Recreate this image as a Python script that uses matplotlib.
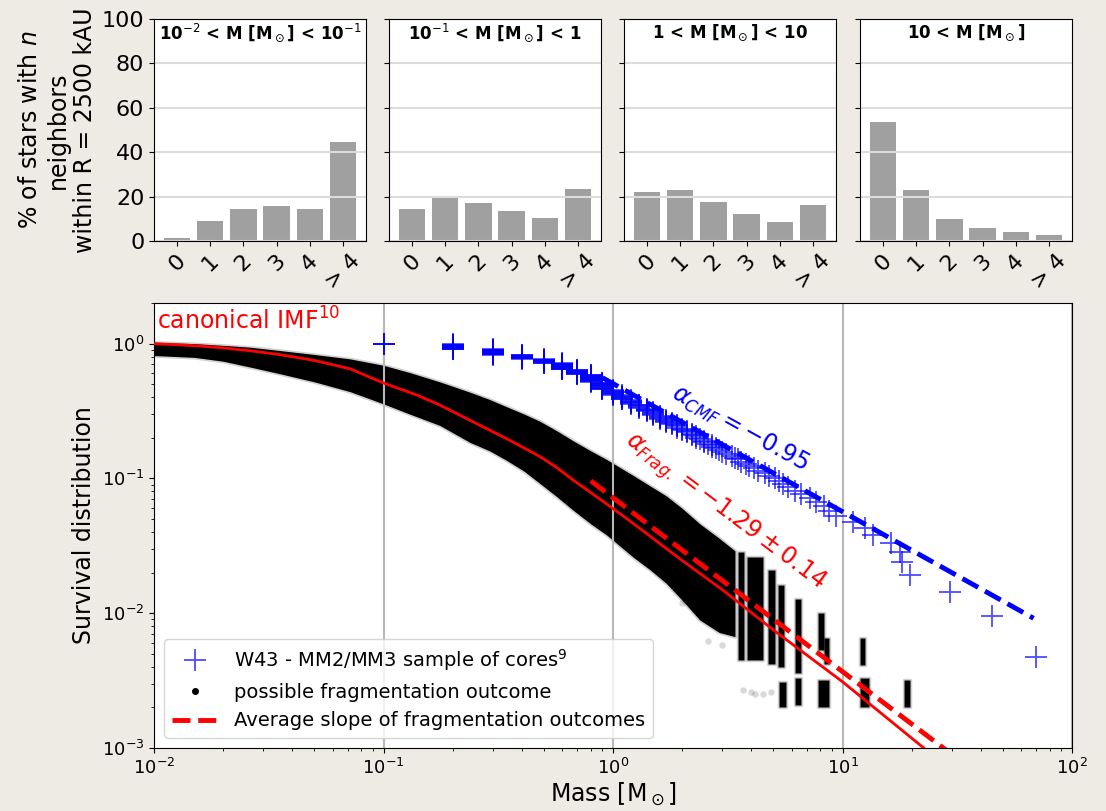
import numpy as np
import matplotlib.pyplot as plt
from matplotlib.lines import Line2D

# --- neighbour statistics (% of stars with n neighbours within 2500 kAU) ---
neighbour_labels = ['0', '1', '2', '3', '4', '> 4']
bin_titles = [r'10$^{-2}$ < M [M$_\odot$] < 10$^{-1}$',
              r'10$^{-1}$ < M [M$_\odot$] < 1',
              r'1 < M [M$_\odot$] < 10',
              r'10 < M [M$_\odot$]']
pct_bin1 = [1.5, 8.9, 14.5, 15.6, 14.5, 44.5]
pct_bin2 = [14.5, 19.8, 17.2, 13.6, 10.2, 23.5]
pct_bin3 = [21.9, 22.9, 17.5, 12.1, 8.5, 16.0]
pct_bin4 = [53.4, 22.9, 9.9, 6.0, 3.9, 2.7]

# --- W43 MM2/MM3 cores: mass values and how many cores share each value ---
core_mass = [0.1, 0.2, 0.3, 0.4, 0.5, 0.6, 0.7, 0.8, 0.9,
             1.0, 1.1, 1.2, 1.3, 1.4, 1.5, 1.6, 1.7, 1.8, 1.9,
             2.0, 2.1, 2.2, 2.3, 2.4, 2.5, 2.6, 2.7, 2.8, 2.9,
             3.0, 3.1, 3.3, 3.4, 3.5, 3.6, 3.8, 3.9,
             4.1, 4.3, 4.6, 4.8, 5.1, 5.3, 5.5, 5.8,
             6.2, 6.6, 7.2, 7.7, 8.3, 8.7, 9.4,
             11.1, 12.5, 13.6, 16.3, 17.8, 18.2, 19.7, 29.4, 45.0, 70.0]
core_count = [3, 17, 17, 12, 11, 16, 11, 15, 13,
              8, 7, 6, 5, 4, 4, 4, 3, 2, 3,
              2, 2, 2, 2, 1, 2, 1, 2, 1, 1,
              1, 1, 1, 1, 1, 1, 1, 1,
              1, 1, 1, 1, 1, 1, 1, 1,
              1, 1, 1, 1, 1, 1, 1,
              1, 1, 1, 1, 1, 1, 1, 1, 1, 1]

# --- canonical IMF survival curve ---
imf_mass = [0.01, 0.015, 0.02, 0.0262, 0.035, 0.05, 0.0715, 0.1, 0.14, 0.176,
            0.238, 0.29, 0.344, 0.41, 0.481, 0.57, 0.671, 0.8, 0.939, 1.1,
            1.31, 2.0, 3.0, 5.0, 10.0, 22.6, 30.0]
imf_surv = [1.0, 0.965, 0.93, 0.885, 0.83, 0.75, 0.65, 0.51, 0.415, 0.35,
            0.27, 0.228, 0.197, 0.168, 0.145, 0.12, 0.097, 0.0785, 0.0645, 0.053,
            0.0425, 0.0246, 0.0149, 0.0075, 0.0031, 0.001, 0.00064]

# --- envelope of the fragmentation outcomes (continuous part) ---
cloud_mass = [0.01, 0.015, 0.02, 0.0262, 0.035, 0.05, 0.0715, 0.1, 0.13, 0.176,
              0.238, 0.29, 0.344, 0.41, 0.481, 0.57, 0.671, 0.8, 0.939, 1.226,
              1.45, 1.71, 2.0, 2.39, 2.9, 3.4]
cloud_upper = [1.02, 1.0, 0.97, 0.94, 0.89, 0.83, 0.77, 0.69, 0.61, 0.52,
               0.436, 0.385, 0.34, 0.30, 0.265, 0.225, 0.19, 0.16, 0.138, 0.105,
               0.088, 0.074, 0.06, 0.046, 0.036, 0.029]
cloud_lower = [0.815, 0.79, 0.74, 0.67, 0.6, 0.52, 0.44, 0.357, 0.30, 0.247,
               0.185, 0.16, 0.136, 0.113, 0.0915, 0.073, 0.058, 0.046, 0.038, 0.026,
               0.021, 0.0166, 0.0125, 0.0089, 0.0072, 0.0067]

# discrete columns of outcomes at high mass: mass range and survival range
col_mass_lo = [3.52, 3.83, 4.75, 5.25, 6.21, 7.85, 8.30, 11.9,
               5.30, 6.21, 7.85, 11.9, 18.6]
col_mass_hi = [3.72, 4.52, 5.08, 5.56, 6.58, 8.30, 8.70, 12.5,
               5.70, 6.58, 8.70, 13.0, 19.7]
col_top = [0.0285, 0.026, 0.0208, 0.0161, 0.0128, 0.010, 0.0065, 0.0065,
           0.0031, 0.0033, 0.0032, 0.0033, 0.0032]
col_bottom = [0.0045, 0.0045, 0.0042, 0.0040, 0.0036, 0.0053, 0.0042, 0.0041,
              0.0020, 0.0021, 0.0020, 0.0020, 0.0020]

# isolated outcomes below the main band
stray_mass = [3.7, 4.0, 4.15, 4.5, 4.9, 2.0, 2.6, 3.0]
stray_surv = [0.0027, 0.0026, 0.0025, 0.0025, 0.0026, 0.012, 0.0062, 0.0058]

# power-law fits
alpha_cmf, cmf_norm, cmf_range = -0.95, 0.505, [0.9, 68.0]
alpha_frag, frag_err, frag_norm, frag_range = -1.29, 0.14, 0.0719, [0.8, 30.0]

plt.rcParams['font.family'] = 'DejaVu Sans'
bg = '#eeebe4'
fig = plt.figure(figsize=(11.06, 8.11), dpi=100, facecolor=bg)

# top row: neighbour histograms
lefts = [154, 389, 624, 860]
pcts = [pct_bin1, pct_bin2, pct_bin3, pct_bin4]
for i, (left, pct, title) in enumerate(zip(lefts, pcts, bin_titles)):
    ax = fig.add_axes([left / 1106, 1 - 241 / 811, 212 / 1106, 222 / 811])
    ax.bar(range(len(pct)), pct, width=0.8, color='#a0a0a0')
    ax.set_ylim(0, 100)
    ax.set_yticks([0, 20, 40, 60, 80, 100])
    ax.yaxis.grid(True, color='#dcdcdc', lw=1.5)
    ax.set_xticks(range(len(neighbour_labels)))
    ax.set_xticklabels(neighbour_labels, rotation=45)
    ax.tick_params(labelsize=16)
    ax.text(0.5, 0.937, title, transform=ax.transAxes, ha='center', va='center',
            fontsize=12, fontweight='bold')
    if i == 0:
        ax.set_ylabel('% of stars with $n$\nneighbors\nwithin R = 2500 kAU',
                      fontsize=17, multialignment='center', labelpad=3)
    else:
        ax.set_yticklabels([])

# bottom: survival distributions
ax = fig.add_axes([154 / 1106, 1 - 748 / 811, 918 / 1106, 445 / 811])
ax.set_xscale('log')
ax.set_yscale('log')
ax.set_xlim(1e-2, 1e2)
ax.set_ylim(1e-3, 2)
ax.xaxis.grid(True, which='major', color='#b8b8b8', lw=1.5)

cloud_style = dict(facecolor='k', edgecolor=(0, 0, 0, 0.18), lw=2.5, zorder=1)
ax.fill_between(cloud_mass, cloud_lower, cloud_upper, **cloud_style)
for mlo, mhi, top, bot in zip(col_mass_lo, col_mass_hi, col_top, col_bottom):
    ax.fill_between([mlo, mhi], [bot, bot], [top, top], **cloud_style)
ax.scatter(stray_mass, stray_surv, s=22, c='k', alpha=0.15, lw=0, zorder=1)

ax.plot(imf_mass, imf_surv, color='red', lw=2, zorder=3)

masses = np.repeat(core_mass, core_count)
surv = (len(masses) - np.arange(len(masses))) / len(masses)
ax.plot(masses, surv, ls='none', marker='+', ms=16, mew=1.3, color='blue',
        alpha=0.7, zorder=3)

m_cmf = np.array(cmf_range)
ax.plot(m_cmf, cmf_norm * m_cmf ** alpha_cmf, color='blue', ls='--', lw=3.5, zorder=4)
m_frag = np.array(frag_range)
ax.plot(m_frag, frag_norm * m_frag ** alpha_frag, color='red', ls='--', lw=3.5, zorder=4)

ax.text(0.003, 0.99, r'canonical IMF$^{10}$', transform=ax.transAxes,
        ha='left', va='top', color='red', fontsize=17)
ax.text(3.57, 0.234, r'$\alpha_{CMF} = -%.2f$' % abs(alpha_cmf), color='blue',
        fontsize=17, rotation=-29, ha='center', va='center', rotation_mode='anchor')
ax.text(3.05, 0.0563, r'$\alpha_{Frag.} = -%.2f \pm %.2f$' % (abs(alpha_frag), frag_err),
        color='red', fontsize=17, rotation=-37, ha='center', va='center',
        rotation_mode='anchor')

ax.set_xlabel(r'Mass [M$_\odot$]', fontsize=17, labelpad=2)
ax.set_ylabel('Survival distribution', fontsize=17)
ax.tick_params(labelsize=13)

handles = [
    Line2D([], [], ls='none', marker='+', ms=16, mew=1.3, color='blue', alpha=0.7),
    Line2D([], [], ls='none', marker='o', ms=4, color='k'),
    Line2D([], [], color='red', ls='--', lw=3.5),
]
labels = [r'W43 - MM2/MM3 sample of cores$^9$', 'possible fragmentation outcome',
          'Average slope of fragmentation outcomes']
ax.legend(handles, labels, loc='lower left', fontsize=14, handlelength=2.4)

fig.savefig('out.png', dpi=100, facecolor=bg)
